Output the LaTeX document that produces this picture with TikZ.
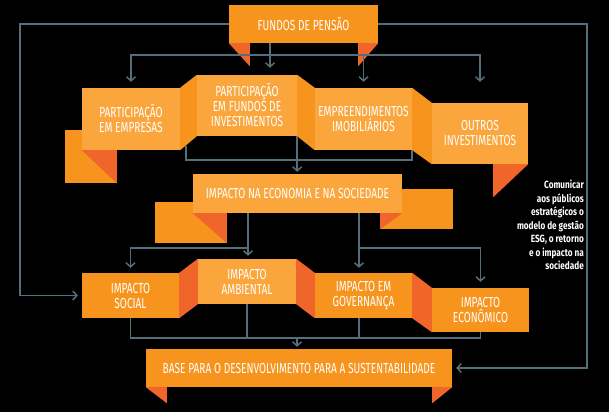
\documentclass[tikz,border=0pt]{standalone}
\usepackage{fontspec}
\newfontfamily\condfont{Fira Sans}[FakeStretch=0.7]
\newfontfamily\notefont{Fira Sans}[FakeStretch=0.78]
\usetikzlibrary{arrows.meta}

\definecolor{lightor}{RGB}{250,166,60}
\definecolor{midor}{RGB}{247,148,30}
\definecolor{darkor}{RGB}{239,101,42}
\definecolor{linkgray}{RGB}{84,110,122}

\begin{document}
\begin{tikzpicture}[x=1pt,y=-1pt,>={Straight Barb[length=4pt,width=9pt]},
  box/.style={fill=#1,text=white,inner sep=0pt,align=center,
    font=\condfont\fontsize{14.5}{15}\selectfont},
  box/.default=lightor,
  tail/.style={fill=darkor},
  link/.style={draw=linkgray,line width=1.5pt},
  note/.style={text=white,inner sep=0pt,align=right,
    font=\notefont\bfseries\fontsize{10.5}{13.5}\selectfont}]

  \fill[black] (0,0) rectangle (609,412);

  % pieces behind the boxes
  \fill[midor] (65,130) rectangle (117,183);
  \fill[midor] (155,202) rectangle (227,243);
  \fill[midor] (380,189) rectangle (453,229);

  \node[box=midor,minimum width=149pt,minimum height=38pt]	(FundosPensao) at (303.5,24) {FUNDOS DE PENSÃO};
  \node[box,minimum width=98pt,minimum height=62pt]	(PartEmpresas) at (131,119) {PARTICIPAÇÃO\\EM EMPRESAS};
  \node[box,minimum width=100pt,minimum height=61pt]	(PartFundos) at (247,105.5) {PARTICIPAÇÃO\\EM FUNDOS DE\\INVESTIMENTOS};
  \node[box,minimum width=97pt,minimum height=62pt]	(Imobiliarios) at (363.5,119) {EMPREENDIMENTOS\\IMOBILIÁRIOS};
  \node[box,minimum width=96pt,minimum height=61pt]	(Outros) at (480,133.5) {OUTROS\\INVESTIMENTOS};
  \node[box,minimum width=209pt,minimum height=39pt]	(ImpactoEcon) at (297.5,193.5) {IMPACTO NA ECONOMIA E NA SOCIEDADE};
  \node[box=midor,minimum width=97pt,minimum height=45pt]	(ImpSocial) at (130.5,295.5) {IMPACTO\\SOCIAL};
  \node[box,minimum width=98pt,minimum height=45pt]	(ImpAmbiental) at (247,281.5) {IMPACTO\\AMBIENTAL};
  \node[box=midor,minimum width=97pt,minimum height=45pt]	(ImpGovernanca) at (363.5,295.5) {IMPACTO EM\\GOVERNANÇA};
  \node[box=midor,minimum width=97pt,minimum height=44pt]	(ImpEconomico) at (480.5,310) {IMPACTO\\ECONÔMICO};
  \node[box=midor,minimum width=306pt,minimum height=38pt]	(Base) at (299,368) {BASE PARA O DESENVOLVIMENTO PARA A SUSTENTABILIDADE};
  \node[note,anchor=north east]	(Nota) at (584,180) {Comunicar\\aos públicos\\estratégicos o\\modelo de gestão\\ESG, o retorno\\e o impacto na\\sociedade};

  % folds between the boxes
  \fill[midor] (PartEmpresas.north east) -- (PartFundos.north west) -- (PartFundos.south west) -- (PartEmpresas.south east) -- cycle;
  \fill[midor] (PartFundos.north east) -- (Imobiliarios.north west) -- (Imobiliarios.south west) -- (PartFundos.south east) -- cycle;
  \fill[midor] (Imobiliarios.north east) -- (Outros.north west) -- (Outros.south west) -- (Imobiliarios.south east) -- cycle;
  \fill[darkor] (ImpSocial.north east) -- (ImpAmbiental.north west) -- (ImpAmbiental.south west) -- (ImpSocial.south east) -- cycle;
  \fill[darkor] (ImpAmbiental.north east) -- (ImpGovernanca.north west) -- (ImpGovernanca.south west) -- (ImpAmbiental.south east) -- cycle;
  \fill[darkor] (ImpGovernanca.north east) -- (ImpEconomico.north west) -- (ImpEconomico.south west) -- (ImpGovernanca.south east) -- cycle;

  % ribbon tails
  \fill[tail] (PartEmpresas.south west) -- ++(35,0) -- ++(0,33) -- cycle;
  \fill[tail] (ImpactoEcon.south west) -- ++(34,0) -- ++(0,30) -- cycle;
  \fill[tail] (ImpactoEcon.south east) -- ++(-22,0) -- ++(0,16) -- cycle;
  \fill[tail] (FundosPensao.south west) -- ++(21,0) -- ++(0,23) -- cycle;
  \fill[tail] (FundosPensao.south east) -- ++(-20,0) -- ++(0,23) -- cycle;
  \fill[tail] (Outros.south east) -- ++(-35,0) -- ++(0,33) -- cycle;
  \fill[tail] (Base.south west) -- ++(21,0) -- ++(0,16) -- cycle;
  \fill[tail] (Base.south east) -- ++(-20,0) -- ++(0,16) -- cycle;

  \coordinate (LeftTurn) at (20,24);
  \coordinate (RightTurn) at (587,24);
  \coordinate (Hub) at (270,55);
  \coordinate (MidStart) at (186,146);
  \coordinate (MidBus) at (186,160);
  \coordinate (SplitL) at (248,248);
  \coordinate (SplitR) at (359,248);
  \coordinate (LowBus) at (297,338);

  \draw[link,->,shorten >=4pt] (FundosPensao.west) -- (LeftTurn) |- (ImpSocial.west);
  \draw[link,->,shorten >=4pt] (FundosPensao.east) -- (RightTurn) |- (Base.east);
  \draw[link,->,shorten >=7pt] (FundosPensao.south -| Hub) -- (Hub |- PartFundos.north);
  \draw[link,->,shorten >=6pt] (Hub) -| (PartEmpresas.north);
  \draw[link,->,shorten >=6pt] (Hub) -| (Imobiliarios.north);
  \draw[link,->,shorten >=21pt] (Hub) -| (Outros.north);

  \draw[link,->,shorten >=2pt] (PartFundos.south east) -- (PartFundos.south east |- ImpactoEcon.north);
  \draw[link] (MidStart) -- (MidBus) -| (Imobiliarios.south east);

  \draw[link,->,shorten >=3pt] (ImpactoEcon.south -| SplitL) -- (SplitL |- ImpAmbiental.north);
  \draw[link,->,shorten >=5pt] (SplitL) -| (ImpSocial.north);
  \draw[link,->,shorten >=5pt] (ImpactoEcon.south -| SplitR) -- (SplitR |- ImpGovernanca.north);
  \draw[link,->,shorten >=6pt] (SplitR) -| (ImpEconomico.north);

  \draw[link] (ImpSocial.south) |- (LowBus) -| (ImpEconomico.south);
  \draw[link] (ImpAmbiental.south) -- (ImpAmbiental.south |- LowBus);
  \draw[link] (ImpGovernanca.south -| SplitR) -- (SplitR |- LowBus);
  \draw[link,->,shorten >=2pt] (LowBus) -- (LowBus |- Base.north);

\end{tikzpicture}
\end{document}
